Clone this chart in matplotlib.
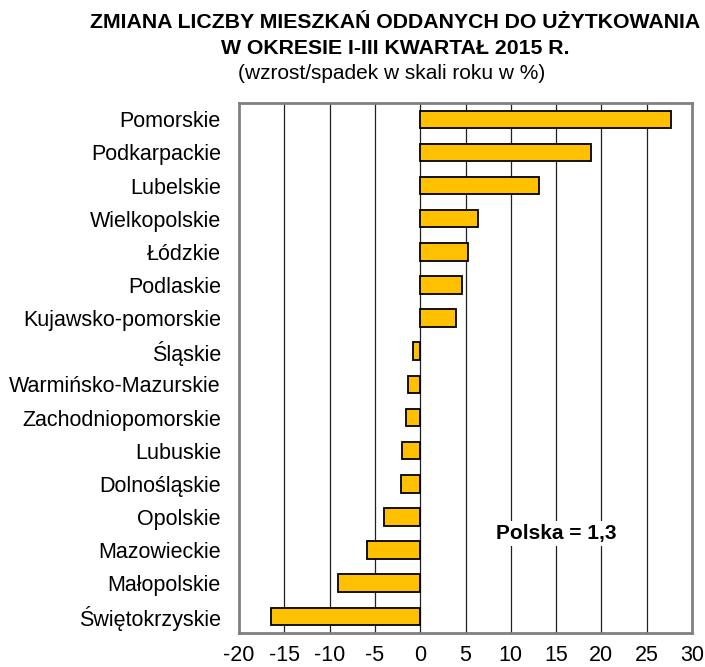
import numpy as np
import matplotlib.pyplot as plt

plt.rcParams['font.family'] = ['Liberation Sans', 'DejaVu Sans']

regions = ["Pomorskie", "Podkarpackie", "Lubelskie", "Wielkopolskie", "Łódzkie",
           "Podlaskie", "Kujawsko-pomorskie", "Śląskie", "Warmińsko-Mazurskie",
           "Zachodniopomorskie", "Lubuskie", "Dolnośląskie", "Opolskie",
           "Mazowieckie", "Małopolskie", "Świętokrzyskie"]
change = [27.7, 18.9, 13.1, 6.4, 5.3, 4.6, 3.9, -0.8, -1.3, -1.6, -2.0, -2.1,
          -4.0, -5.9, -9.1, -16.5]
xticks = [-20, -15, -10, -5, 0, 5, 10, 15, 20, 25, 30]
polska = "1,3"

fig = plt.figure(figsize=(7.05, 6.67), dpi=100)
ax = fig.add_axes([0.339, 0.051, 0.6426, 0.795])

y = np.arange(len(regions))
ax.barh(y, change, height=0.53, color="#FFC000", edgecolor="black", linewidth=1.3, zorder=3)

ax.set_xlim(-20, 30)
ax.set_ylim(len(regions) - 0.5, -0.5)
ax.set_xticks(xticks)
ax.set_xticklabels([str(t) for t in xticks], fontsize=15.5)
ax.set_yticks(y)
ax.set_yticklabels(regions, fontsize=15.5)
ax.tick_params(axis="both", length=0)
ax.tick_params(axis="y", pad=13)
ax.tick_params(axis="x", pad=9)

for t in xticks[1:-1]:
    ax.axvline(t, color="#202020", linewidth=0.9, zorder=1)
for s in ax.spines.values():
    s.set_color("#808080")
    s.set_linewidth(2)

ax.text(15, 12.5, "Polska = " + polska, fontsize=15, fontweight="bold",
        ha="center", va="center", zorder=4,
        bbox=dict(facecolor="white", edgecolor="none", pad=2))

fig.text(0.56, 0.966, "ZMIANA LICZBY MIESZKAŃ ODDANYCH DO UŻYTKOWANIA",
         ha="center", va="center", fontsize=15.3, fontweight="bold")
fig.text(0.56, 0.928, "W OKRESIE I-III KWARTAŁ 2015 R.",
         ha="center", va="center", fontsize=15.3, fontweight="bold")
fig.text(0.556, 0.890, "(wzrost/spadek w skali roku w %)", ha="center", va="center", fontsize=15)

plt.savefig("out.png", dpi=100)
